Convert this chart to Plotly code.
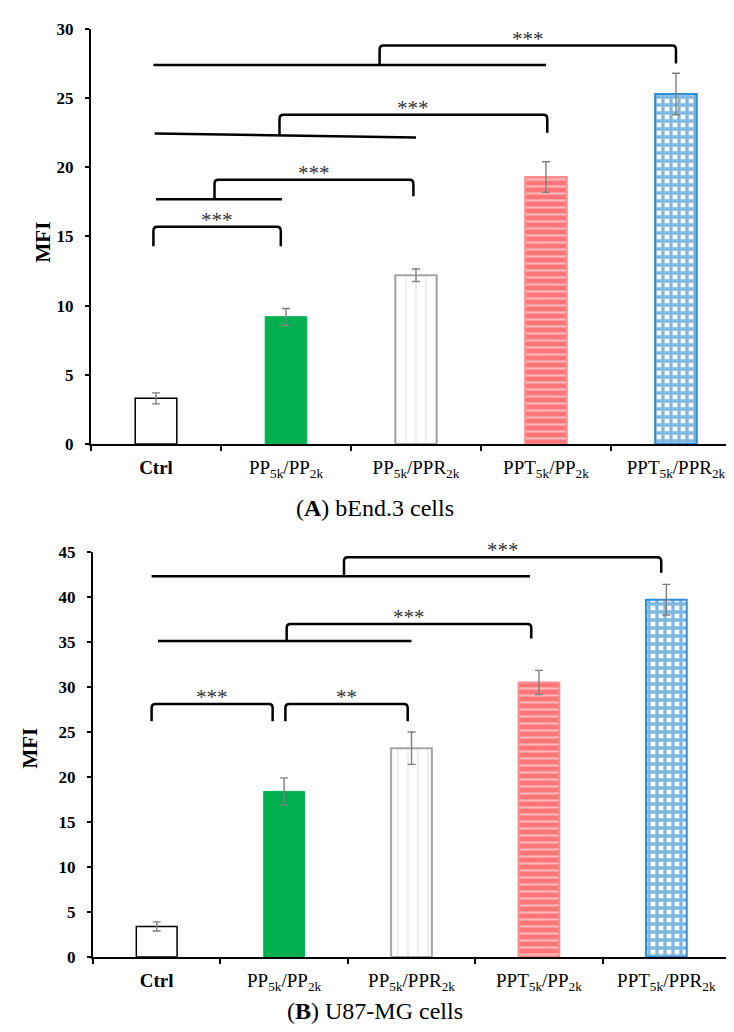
import plotly.graph_objects as go

# ---------------- data ----------------
categories = ["<b>Ctrl</b>", "PP<sub>5k</sub>/PP<sub>2k</sub>", "PP<sub>5k</sub>/PPR<sub>2k</sub>",
              "PPT<sub>5k</sub>/PP<sub>2k</sub>", "PPT<sub>5k</sub>/PPR<sub>2k</sub>"]
positions = [0, 1, 2, 3, 4]
mfi_bend3 = [3.3, 9.2, 12.2, 19.3, 25.3]
err_bend3 = [0.4, 0.6, 0.45, 1.1, 1.5]
mfi_u87 = [3.4, 18.4, 23.2, 30.5, 39.7]
err_u87 = [0.5, 1.5, 1.8, 1.35, 1.7]

# significance brackets: (x_left, x_right, y_left_end, y_top, y_right_end, label)
brackets_bend3 = [(-0.02, 0.96, 14.3, 15.7, 14.3, "***"),
                  (0.45, 1.98, 17.7, 19.1, 17.9, "***"),
                  (0.95, 3.01, 22.3, 23.8, 22.5, "***"),
                  (1.72, 4.00, 27.4, 28.8, 27.5, "***")]
# group base lines: (x_left, x_right, y_left, y_right)
lines_bend3 = [(0.0, 0.97, 17.7, 17.7),
               (-0.01, 2.0, 22.45, 22.15),
               (-0.02, 3.0, 27.4, 27.4)]
brackets_u87 = [(-0.04, 0.91, 26.2, 28.1, 26.2, "***"),
                (1.01, 1.97, 26.2, 28.1, 26.2, "**"),
                (1.02, 2.94, 35.1, 37.0, 35.4, "***"),
                (1.47, 3.96, 42.3, 44.4, 42.7, "***")]
lines_u87 = [(0.01, 2.0, 35.1, 35.1),
             (-0.04, 2.93, 42.3, 42.3)]

# ---------------- styles ----------------
bar_colors = ["white", "#00B050", "white", "#FF7578", "#0070C0"]
line_colors = ["#000000", "#00B050", "#A6A6A6", "#FF8C8F", "#2E8FD8"]
line_widths = [1.5, 1, 2, 2, 2]
pat_shapes = ["", "", "|", "-", "+"]
pat_fg = ["white", "#00B050", "#C4C4C4", "white", "#0070C0"]
pat_bg = ["white", "#00B050", "white", "#FF7578", "white"]
pat_size = [8, 8, 10, 7, 8]
pat_sol = [0.2, 0.2, 0.12, 0.3, 0.66]

SERIF = "Liberation Serif"

fig = go.Figure()


def add_panel(values, errors, xa, ya):
    for i in range(len(positions)):
        pat = dict(shape=pat_shapes[i], fgcolor=pat_fg[i], bgcolor=pat_bg[i],
                   size=pat_size[i], solidity=pat_sol[i])
        fig.add_trace(go.Bar(
            x=[positions[i]], y=[values[i]], xaxis=xa, yaxis=ya, width=0.32,
            marker=dict(color=bar_colors[i],
                        line=dict(color=line_colors[i], width=line_widths[i]),
                        pattern=pat),
            error_y=dict(type="data", array=[errors[i]], visible=True, color="#7F7F7F",
                         thickness=1.4, width=4),
            showlegend=False, hoverinfo="skip"))


add_panel(mfi_bend3, err_bend3, "x", "y")
add_panel(mfi_u87, err_u87, "x2", "y2")


def add_brackets(brackets, lines, xref, yref, ry):
    rx = 0.03
    for (x0, x1, yl, yt, yr, lab) in brackets:
        path = (f"M {x0},{yl} L {x0},{yt-ry} Q {x0},{yt} {x0+rx},{yt} "
                f"L {x1-rx},{yt} Q {x1},{yt} {x1},{yt-ry} L {x1},{yr}")
        fig.add_shape(type="path", path=path, xref=xref, yref=yref,
                      line=dict(color="black", width=2.5))
        fig.add_annotation(x=(x0 + x1) / 2, y=yt, xref=xref, yref=yref, text=lab,
                           showarrow=False, yanchor="bottom", yshift=-7,
                           font=dict(family=SERIF, size=21, color="#333333"))
    for (x0, x1, y0, y1) in lines:
        fig.add_shape(type="line", x0=x0, x1=x1, y0=y0, y1=y1, xref=xref, yref=yref,
                      line=dict(color="black", width=2.5))


add_brackets(brackets_bend3, lines_bend3, "x", "y", 0.3)
add_brackets(brackets_u87, lines_u87, "x2", "y2", 0.45)

xcommon = dict(range=[-0.5, 4.5], showline=True, linecolor="black", linewidth=2,
               tickmode="array", tickvals=positions, ticktext=categories, ticks="",
               tickfont=dict(family=SERIF, size=19, color="black"),
               ticklabelstandoff=5, automargin=False,
               minor=dict(tickmode="array", tickvals=[-0.5, 0.5, 1.5, 2.5, 3.5, 4.5],
                          ticks="outside", ticklen=5, tickwidth=1.5, tickcolor="black"),
               showgrid=False, zeroline=False, fixedrange=True)
ycommon = dict(showline=True, linecolor="black", linewidth=2, ticks="outside",
               ticklen=4, tickwidth=1.5, tickcolor="black", dtick=5, tick0=0,
               tickfont=dict(family=SERIF, size=17, color="black", weight="bold"),
               ticklabelstandoff=8, showgrid=False, zeroline=False, automargin=False)

fig.update_layout(
    width=734, height=1032, margin=dict(l=0, r=0, t=0, b=0, autoexpand=False),
    paper_bgcolor="white", plot_bgcolor="white", showlegend=False,
    barmode="overlay",
    xaxis=dict(domain=[0.1131, 0.9986], anchor="y", **xcommon),
    yaxis=dict(domain=[0.5775, 0.9797], anchor="x", range=[0, 30], **ycommon),
    xaxis2=dict(domain=[0.1158, 0.9837], anchor="y2", **xcommon),
    yaxis2=dict(domain=[0.0804, 0.4729], anchor="x2", range=[0, 45], **ycommon),
)

fig.add_annotation(x=0.047, y=0.7733, xref="paper", yref="paper", text="<b>MFI</b>",
                   textangle=-90, showarrow=False, xanchor="center", yanchor="middle",
                   font=dict(family=SERIF, size=21, color="black"))
fig.add_annotation(x=0.0307, y=0.2829, xref="paper", yref="paper", text="<b>MFI</b>",
                   textangle=-90, showarrow=False, xanchor="center", yanchor="middle",
                   font=dict(family=SERIF, size=21, color="black"))
fig.add_annotation(x=0.5, y=0.5155, xref="paper", yref="paper",
                   text="(<b>A</b>) bEnd.3 cells", showarrow=False,
                   font=dict(family=SERIF, size=24, color="black"))
fig.add_annotation(x=0.5, y=0.0136, xref="paper", yref="paper",
                   text="(<b>B</b>) U87-MG cells", showarrow=False,
                   font=dict(family=SERIF, size=24, color="black"))

fig.write_html("out.html")
